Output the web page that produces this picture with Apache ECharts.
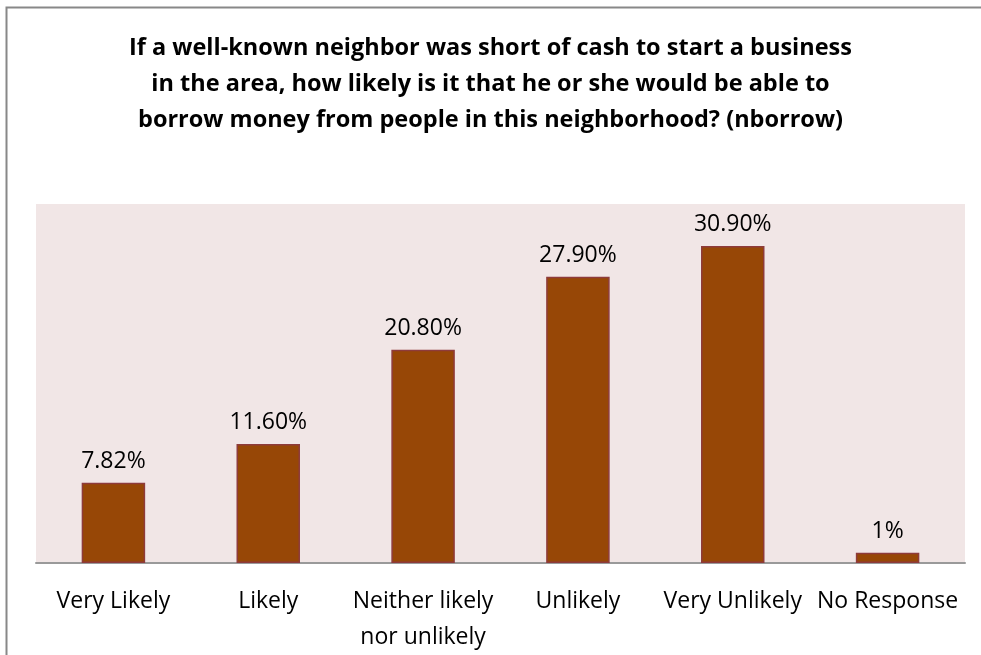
<!DOCTYPE html>
<html><head><meta charset="utf-8">
<script src="https://cdn.jsdelivr.net/npm/echarts@6/dist/echarts.min.js"></script>
<style>html,body{margin:0;padding:0;background:#fff}#c{width:981px;height:655px}</style>
</head><body><div id="c"></div>
<script>
const titleText = "If a well-known neighbor was short of cash to start a business\nin the area, how likely is it that he or she would be able to\nborrow money from people in this neighborhood? (nborrow)";
const categories = ["Very Likely", "Likely", "Neither likely\nnor unlikely", "Unlikely", "Very Unlikely", "No Response"];
const values = [7.82, 11.6, 20.8, 27.9, 30.9, 1];
const valueLabels = ["7.82%", "11.60%", "20.80%", "27.90%", "30.90%", "1%"];

const chart = echarts.init(document.getElementById('c'));
chart.setOption({
  animation: false,
  backgroundColor: '#fff',
  title: {
    text: titleText, left: 'center', top: 25,
    textStyle: { fontFamily: 'Open Sans', fontWeight: 'bold', fontSize: 23.5, lineHeight: 36, color: '#000' }
  },
  graphic: [{ type: 'rect', shape: { x: 6.5, y: 7.5, width: 1100, height: 800 }, style: { fill: 'none', stroke: '#888', lineWidth: 2 }, z: 100 }],
  grid: { left: 36, right: 16, top: 204, bottom: 92, containLabel: false, outerBoundsMode: 'none', show: true, backgroundColor: '#F1E6E6', borderWidth: 0 },
  xAxis: {
    type: 'category', data: categories,
    axisLine: { lineStyle: { color: '#9a9a9a', width: 2 } },
    axisTick: { show: false },
    axisLabel: { interval: 0, margin: 20, fontFamily: 'Open Sans', fontSize: 23, lineHeight: 36, color: '#000' }
  },
  yAxis: { type: 'value', min: 0, max: 35, show: false, splitLine: { show: false } },
  series: [{
    type: 'bar', data: values, barWidth: '41%',
    itemStyle: { color: '#974706', borderColor: '#8E3B3B', borderWidth: 1.5 },
    label: { show: true, position: 'top', distance: 10, fontFamily: 'Open Sans', fontSize: 23, color: '#000',
      formatter: p => valueLabels[p.dataIndex] }
  }]
});
</script></body></html>
